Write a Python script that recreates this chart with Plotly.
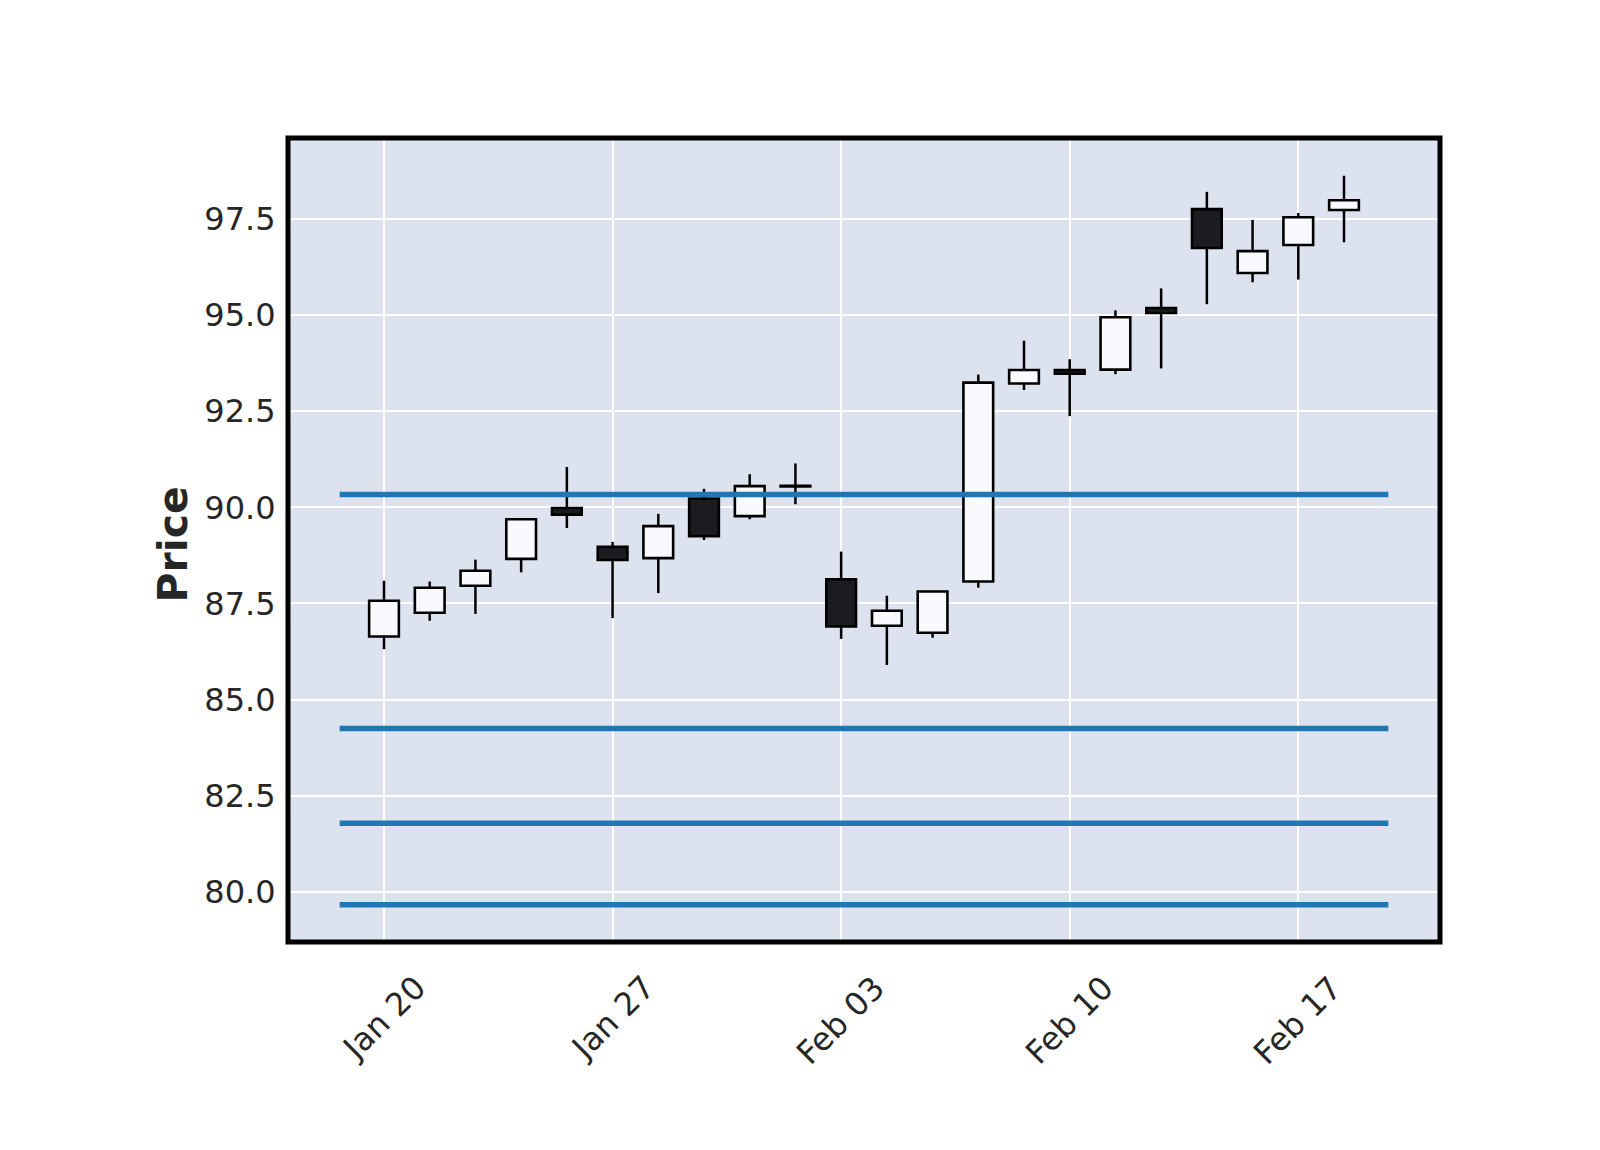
import plotly.graph_objects as go

dates = ["2020-01-20", "2020-01-21", "2020-01-22", "2020-01-23", "2020-01-24",
         "2020-01-27", "2020-01-28", "2020-01-29", "2020-01-30", "2020-01-31",
         "2020-02-03", "2020-02-04", "2020-02-05", "2020-02-06", "2020-02-07",
         "2020-02-10", "2020-02-11", "2020-02-12", "2020-02-13", "2020-02-14",
         "2020-02-17", "2020-02-18"]
opens = [86.64, 87.26, 87.96, 88.66, 89.98, 88.97, 88.68, 90.23, 89.77, 90.54,
         88.13, 86.92, 86.74, 88.07, 93.22, 93.57, 93.58, 95.18, 97.75, 96.09,
         96.82, 97.73]
highs = [88.09, 88.07, 88.64, 89.70, 91.05, 89.10, 89.83, 90.48, 90.86, 91.14,
         88.85, 87.70, 87.81, 93.45, 94.33, 93.85, 95.12, 95.69, 98.20, 97.47,
         97.65, 98.62]
lows = [86.31, 87.05, 87.23, 88.31, 89.46, 87.12, 87.77, 89.15, 89.69, 90.08,
        86.58, 85.90, 86.61, 87.91, 93.05, 92.37, 93.46, 93.61, 95.28, 95.85,
        95.92, 96.89]
closes = [87.57, 87.91, 88.35, 89.69, 89.81, 88.63, 89.51, 89.25, 90.55, 90.56,
          86.90, 87.31, 87.81, 93.24, 93.57, 93.47, 94.94, 95.05, 96.74, 96.66,
          97.54, 97.98]
hline_values = [90.33, 84.25, 81.79, 79.67]
tick_dates = ["2020-01-20", "2020-01-27", "2020-02-03", "2020-02-10", "2020-02-17"]
tick_labels = ["Jan 20", "Jan 27", "Feb 03", "Feb 10", "Feb 17"]
y_ticks = [80.0, 82.5, 85.0, 87.5, 90.0, 92.5, 95.0, 97.5]

UP_FILL = "#f9fafd"
DOWN_FILL = "#1b1c1f"
BG = "#dce3ef"
TXT = "#262626"
FONT = "DejaVu Sans"

bases = [min(o, c) for o, c in zip(opens, closes)]
heights = [abs(c - o) for o, c in zip(opens, closes)]
fills = [UP_FILL if c >= o else DOWN_FILL for o, c in zip(opens, closes)]

wx, wy = [], []
for d, o, h, l, c in zip(dates, opens, highs, lows, closes):
    top, bot = max(o, c), min(o, c)
    if h > top:
        wx += [d, d, None]
        wy += [h, top, None]
    if l < bot:
        wx += [d, d, None]
        wy += [bot, l, None]

fig = go.Figure()
fig.add_trace(go.Bar(
    x=dates, y=heights, base=bases, width=0.65,
    marker=dict(color=fills, line=dict(color="black", width=2.6)),
    showlegend=False, hoverinfo="skip"))
fig.add_trace(go.Scatter(
    x=wx, y=wy, mode="lines", line=dict(color="black", width=2.5),
    showlegend=False, hoverinfo="skip"))

for v in hline_values:
    fig.add_shape(type="line", xref="x", yref="y", x0=-0.97, x1=21.97, y0=v, y1=v,
                  line=dict(color="#1f77b4", width=5.5), layer="above")

fig.add_shape(type="rect", xref="paper", yref="paper", x0=0, x1=1, y0=0, y1=1,
              line=dict(color="black", width=5), layer="above")

for d, t in zip(tick_dates, tick_labels):
    fig.add_annotation(x=d, y=0, xref="x", yref="paper", text=t, showarrow=False,
                       textangle=-45, xanchor="center", yanchor="top", yshift=-24,
                       font=dict(family=FONT, size=32, color=TXT))

fig.add_annotation(x=-0.0994, y=0.495, xref="paper", yref="paper", text="<b>Price</b>",
                   showarrow=False, textangle=-90, xanchor="center", yanchor="middle",
                   font=dict(family=FONT, size=41, color=TXT))

fig.update_layout(
    width=1600, height=1150,
    margin=dict(l=288, r=160, t=138, b=208),
    paper_bgcolor="white", plot_bgcolor=BG,
    barmode="overlay",
    font=dict(family=FONT, size=32, color=TXT),
    xaxis=dict(type="category", categoryorder="array", categoryarray=dates,
               range=[-2.1, 23.1], tickvals=tick_dates, showticklabels=False,
               showgrid=True, gridcolor="white", gridwidth=2, zeroline=False,
               showline=False, ticks=""),
    yaxis=dict(range=[78.70, 99.60], tickvals=y_ticks, tickformat=".1f",
               showgrid=True, gridcolor="white", gridwidth=2, zeroline=False,
               showline=False, ticks="outside", ticklen=5,
               tickcolor="rgba(0,0,0,0)",
               tickfont=dict(family=FONT, size=32, color=TXT)),
)

fig.write_html("out.html")
